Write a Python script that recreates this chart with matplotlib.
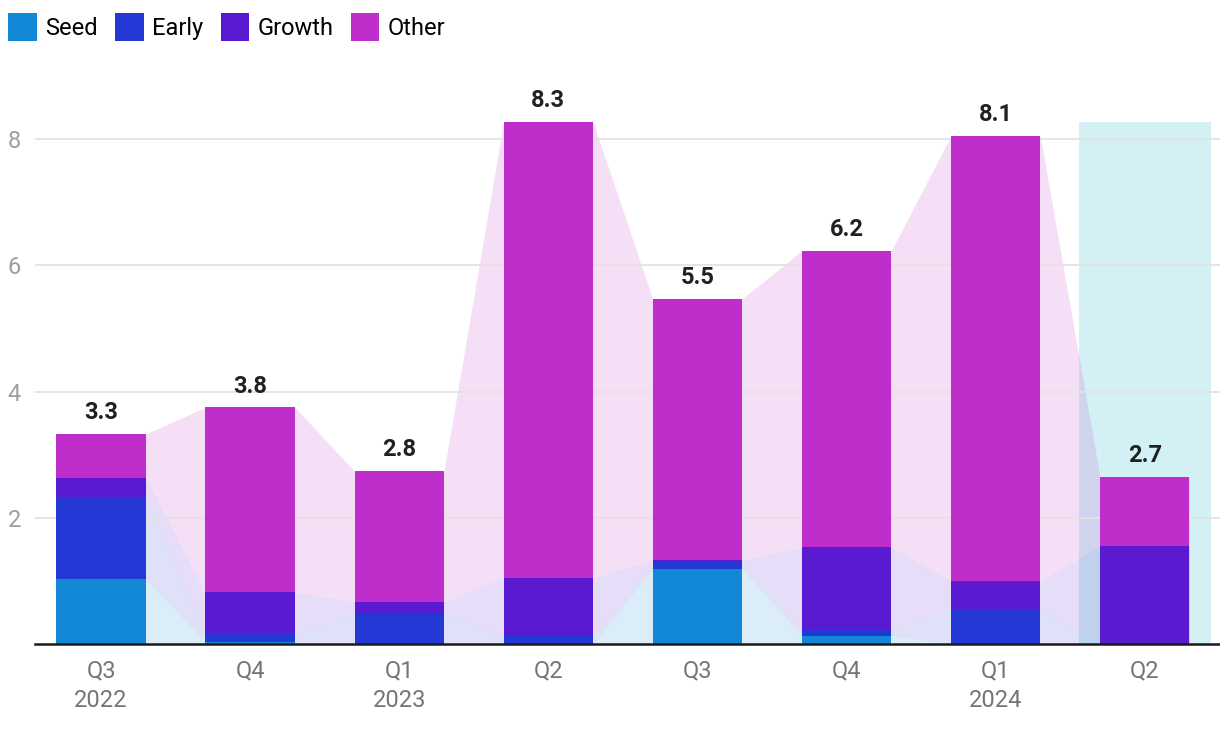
import numpy as np
import matplotlib.pyplot as plt
from matplotlib.patches import Patch

plt.rcParams['font.family'] = ['Roboto', 'DejaVu Sans']

quarters = ['Q3\n2022', 'Q4', 'Q1\n2023', 'Q2', 'Q3', 'Q4', 'Q1\n2024', 'Q2']
seed = [1.03, 0.03, 0.0, 0.0, 1.19, 0.13, 0.0, 0.0]
early = [1.28, 0.13, 0.48, 0.13, 0.11, 0.10, 0.55, 0.0]
growth = [0.32, 0.66, 0.19, 0.92, 0.03, 1.30, 0.45, 1.55]
totals = [3.33, 3.75, 2.74, 8.27, 5.47, 6.23, 8.05, 2.65]
total_labels = ['3.3', '3.8', '2.8', '8.3', '5.5', '6.2', '8.1', '2.7']

names = ['Seed', 'Early', 'Growth', 'Other']
colors = ['#1288d6', '#2338d4', '#5a1bd0', '#bf2ecb']

seed = np.array(seed)
early = np.array(early)
growth = np.array(growth)
totals = np.array(totals)
other = totals - seed - early - growth
layers = [seed, early, growth, other]

fig = plt.figure(figsize=(12.2, 7.32), dpi=100)
ax = fig.add_axes([35 / 1220, (732 - 644) / 732, (1220 - 35) / 1220, (644 - 88) / 732])

x = np.arange(len(quarters))
bar_width = 0.6

# highlight last quarter
ax.bar(x[-1], totals.max(), width=0.885, color='#d3f1f4', zorder=0.5)

# shaded areas connecting the bars (stacked)
xs = np.ravel(np.column_stack([x - bar_width / 2, x + bar_width / 2]))
cum = np.zeros(len(x))
for vals, c in zip(layers, colors):
    lower = np.repeat(cum, 2)
    cum = cum + vals
    upper = np.repeat(cum, 2)
    ax.fill_between(xs, lower, upper, color=c, alpha=0.15, lw=0, zorder=1)

for yv in [2, 4, 6, 8]:
    ax.axhline(yv, color='#e3e3e3', lw=1.3, zorder=1.5)

bottom = np.zeros(len(x))
for vals, c, n in zip(layers, colors, names):
    ax.bar(x, vals, bar_width, bottom=bottom, color=c, label=n, zorder=3)
    bottom = bottom + vals

for xi, t, lab in zip(x, totals, total_labels):
    ax.annotate(lab, (xi, t), xytext=(0, 7), textcoords='offset points',
                ha='center', va='bottom', fontsize=17, fontweight='bold',
                color='#212121', zorder=4)

ax.set_xlim(-0.443, 7.505)
ax.set_ylim(0, 8.81)
ax.set_yticks([2, 4, 6, 8])
ax.set_yticklabels(['2', '4', '6', '8'], fontsize=17, color='#9e9e9e')
ax.set_xticks(x)
ax.set_xticklabels(quarters, fontsize=17, color='#757575', linespacing=1.4)
ax.tick_params(axis='y', length=0, pad=10)
ax.tick_params(axis='x', length=0, pad=11)

for s in ['top', 'right', 'left']:
    ax.spines[s].set_visible(False)
ax.spines['bottom'].set_color('#1a1a1a')
ax.spines['bottom'].set_linewidth(1.8)
ax.spines['bottom'].set_zorder(5)

handles = [Patch(facecolor=c, label=n) for c, n in zip(colors, names)]
fig.legend(handles=handles, loc='upper left', bbox_to_anchor=(0.0, 0.994),
           ncol=4, frameon=False, fontsize=17, handlelength=1.2,
           handleheight=1.5, handletextpad=0.35, columnspacing=0.75,
           borderaxespad=0.1, borderpad=0.25)

fig.savefig('out.png', dpi=100)
